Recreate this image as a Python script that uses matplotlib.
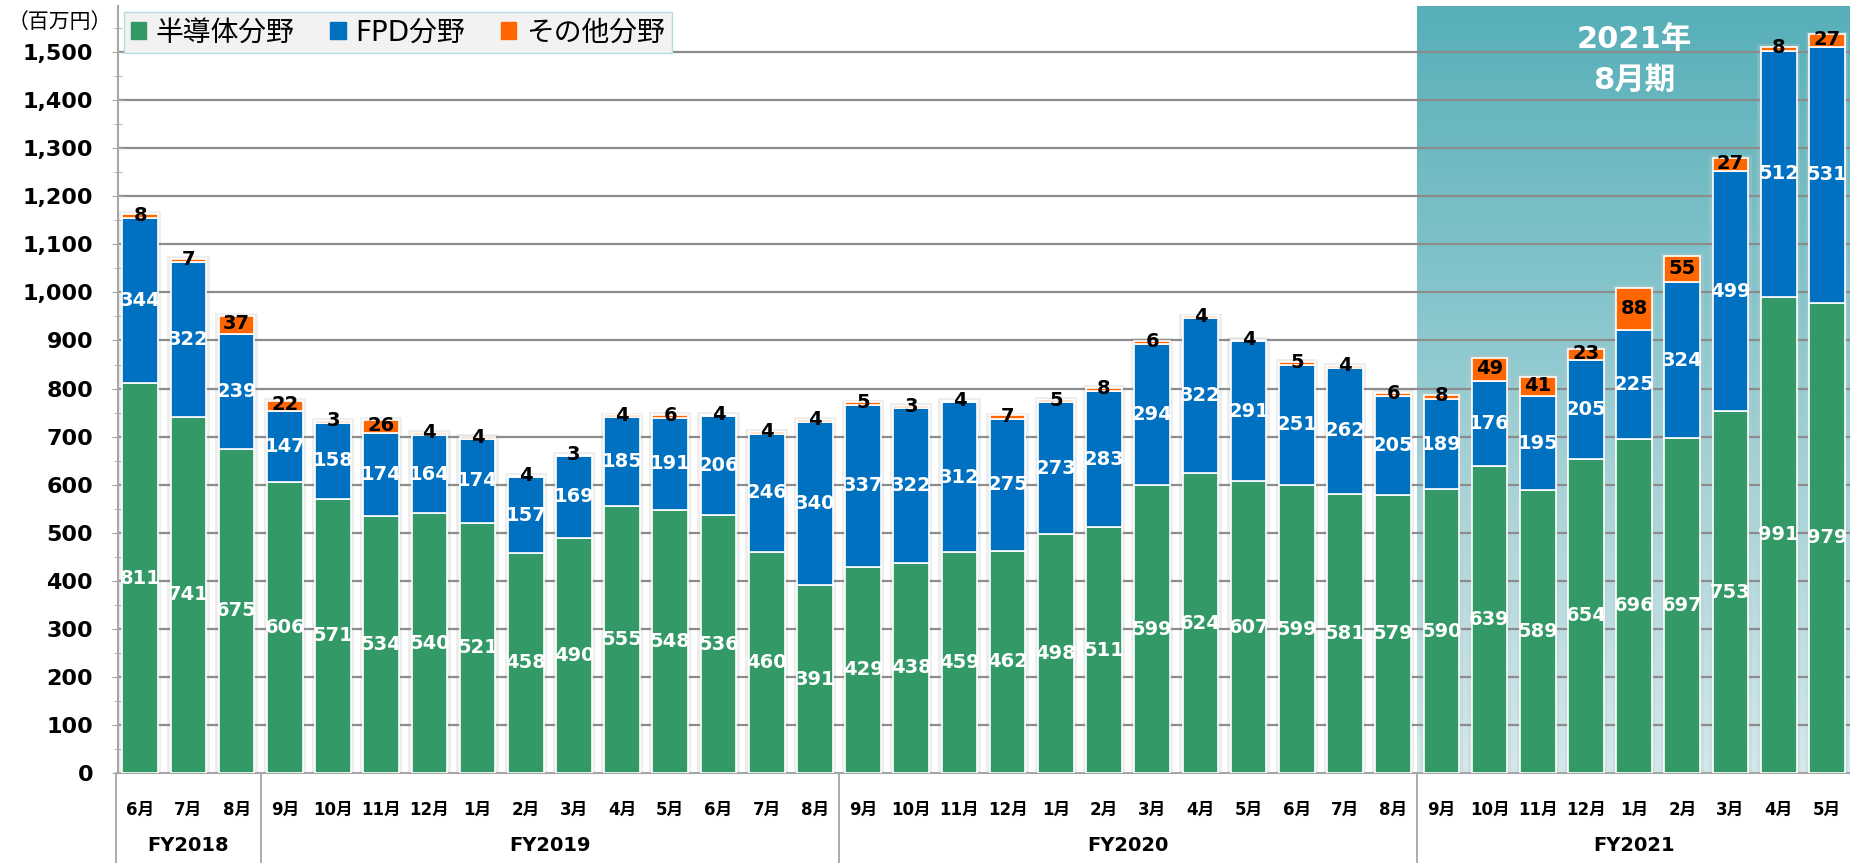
"""
monthly sales by segment (stacked bars)
"""

import numpy as np
import matplotlib.pyplot as plt
from matplotlib.patches import Patch
from matplotlib.colors import LinearSegmentedColormap
from matplotlib.ticker import FuncFormatter, MultipleLocator

plt.rcParams['font.family'] = ['DejaVu Sans', 'Noto Sans CJK JP']

months = ['6月', '7月', '8月',
          '9月', '10月', '11月', '12月', '1月', '2月', '3月', '4月', '5月', '6月', '7月', '8月',
          '9月', '10月', '11月', '12月', '1月', '2月', '3月', '4月', '5月', '6月', '7月', '8月',
          '9月', '10月', '11月', '12月', '1月', '2月', '3月', '4月', '5月']
semi = [811, 741, 675,
        606, 571, 534, 540, 521, 458, 490, 555, 548, 536, 460, 391,
        429, 438, 459, 462, 498, 511, 599, 624, 607, 599, 581, 579,
        590, 639, 589, 654, 696, 697, 753, 991, 979]
fpd = [344, 322, 239,
       147, 158, 174, 164, 174, 157, 169, 185, 191, 206, 246, 340,
       337, 322, 312, 275, 273, 283, 294, 322, 291, 251, 262, 205,
       189, 176, 195, 205, 225, 324, 499, 512, 531]
other = [8, 7, 37,
         22, 3, 26, 4, 4, 4, 3, 4, 6, 4, 4, 4,
         5, 3, 4, 7, 5, 8, 6, 4, 4, 5, 4, 6,
         8, 49, 41, 23, 88, 55, 27, 8, 27]
fy_names = ['FY2018', 'FY2019', 'FY2020', 'FY2021']
fy_counts = [3, 12, 12, 9]

green = '#339966'
blue = '#0070C0'
orange = '#FF6600'

x = np.arange(len(months))
semi = np.array(semi)
fpd = np.array(fpd)
other = np.array(other)
total = semi + fpd + other

fig = plt.figure(figsize=(18.5, 8.63), dpi=100)
ax = fig.add_axes([0.0638, 0.1043, 0.9362, 0.8887])

y_top = 1596
# shaded FY2021 area (gradient, dark at the top)
start = sum(fy_counts[:3]) - 0.5
cmap = LinearSegmentedColormap.from_list('teal', ['#57AFB8', '#D3E9EC'])
grad = np.linspace(0, 1, 256).reshape(-1, 1)
ax.imshow(grad, extent=(start, len(months) + 1, 0, y_top), aspect='auto',
          cmap=cmap, zorder=0)

# soft shadow behind bars
ax.bar(x, total + 6, width=0.88, color='#C8C8C8', alpha=0.3, zorder=1, linewidth=0)

for v in range(100, 1600, 100):
    ax.axhline(v, color='#8C8C8C', lw=1.6, zorder=1.5)

ax.bar(x, semi, width=0.74, color=green, edgecolor='white', lw=1.2, zorder=3)
ax.bar(x, fpd, bottom=semi, width=0.74, color=blue, edgecolor='white', lw=1.2, zorder=3)
ax.bar(x, other, bottom=semi + fpd, width=0.74, color=orange, edgecolor='white', lw=1.2, zorder=3)

for i in x:
    ax.text(i, semi[i] / 2, str(semi[i]), ha='center', va='center', color='white',
            fontsize=14, fontweight='bold', zorder=4)
    ax.text(i, semi[i] + fpd[i] / 2, str(fpd[i]), ha='center', va='center', color='white',
            fontsize=14, fontweight='bold', zorder=4)
    ax.text(i, semi[i] + fpd[i] + other[i] / 2 + 2, str(other[i]), ha='center', va='center',
            color='black', fontsize=14, fontweight='bold', zorder=4)

ax.set_xlim(-0.46, len(months) - 0.52)
ax.set_ylim(0, y_top)

ax.text(31.0, 1527, '2021年', ha='center', va='center', color='white', fontsize=22,
        fontweight='bold', zorder=4)
ax.text(31.0, 1442, '8月期', ha='center', va='center', color='white', fontsize=22,
        fontweight='bold', zorder=4)

# axes styling
for s in ['top', 'right']:
    ax.spines[s].set_visible(False)
ax.spines['left'].set_color('#A6A6A6')
ax.spines['bottom'].set_color('#A6A6A6')
ax.spines['left'].set_linewidth(1.5)
ax.spines['bottom'].set_linewidth(1.5)

ax.yaxis.set_major_locator(MultipleLocator(100))
ax.yaxis.set_minor_locator(MultipleLocator(50))
ax.yaxis.set_major_formatter(FuncFormatter(lambda v, p: f'{int(v):,}' if v <= 1500 else ''))
ax.tick_params(axis='y', which='major', direction='inout', length=8, color='#A6A6A6',
               labelsize=16, pad=14)
ax.tick_params(axis='y', which='minor', direction='inout', length=6, color='#A6A6A6')
for lab in ax.get_yticklabels():
    lab.set_fontweight('bold')

ax.set_xticks(x)
ax.set_xticklabels(months, fontsize=12, fontweight='bold')
ax.tick_params(axis='x', length=0, pad=20)

# fiscal year groups below the axis
trans = ax.get_xaxis_transform()
pos = -0.5
for name, n in zip(fy_names, fy_counts):
    ax.plot([pos, pos], [0, -0.12], transform=trans, color='#A6A6A6', lw=1.3, clip_on=False)
    ax.text(pos + n / 2, -0.095, name, transform=trans, ha='center', va='center',
            fontsize=14, fontweight='bold')
    pos += n

fig.text(0.004, 0.975, '（百万円）', fontsize=15, ha='left', va='center')

handles = [Patch(color=green, label='半導体分野'),
           Patch(color=blue, label='FPD分野'),
           Patch(color=orange, label='その他分野')]
leg = ax.legend(handles=handles, loc='upper left', bbox_to_anchor=(0.0, 1.0), ncol=3,
                fontsize=20, frameon=True, fancybox=False, facecolor='#F2F2F2',
                edgecolor='#B4DCE4', framealpha=1, handlelength=0.55, handleheight=0.55,
                handletextpad=0.35, columnspacing=1.3, borderpad=0.25, borderaxespad=0.2)
leg.set_zorder(5)

fig.savefig('out.png', dpi=100)
